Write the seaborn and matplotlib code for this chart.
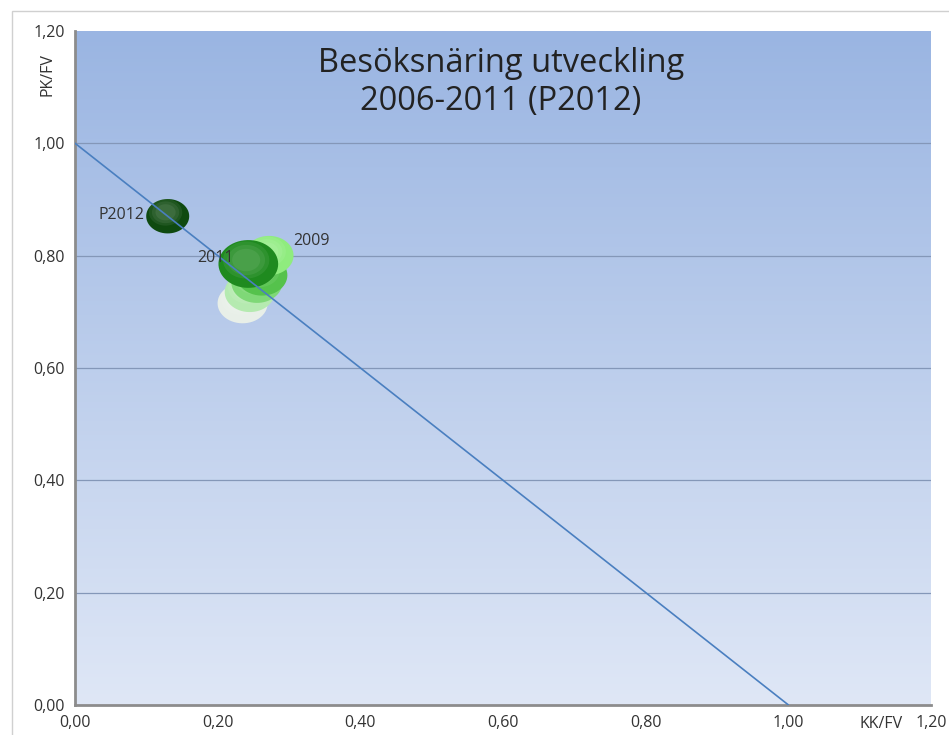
import numpy as np
import pandas as pd
import seaborn as sns
import matplotlib.pyplot as plt
from matplotlib.path import Path
from matplotlib.colors import LinearSegmentedColormap
from matplotlib.patches import Rectangle

# data: KK/FV (x), PK/FV (y) per year
years = ["2006", "2007", "2008", "2010", "2009", "2011", "P2012"]
kk_fv = [0.235, 0.245, 0.255, 0.262, 0.272, 0.243, 0.130]
pk_fv = [0.715, 0.735, 0.752, 0.765, 0.800, 0.785, 0.870]
bubble_colors = ["#e8efe8", "#b5eab0", "#7fd877", "#55c24c", "#8fec7e", "#1f8a1f", "#0f4a10"]
bubble_sizes = [1300, 1300, 1350, 1350, 1250, 1850, 960]
labelled = {"2009": (0.306, 0.826, "left"), "2011": (0.222, 0.795, "right"),
            "P2012": (0.097, 0.872, "right")}
yticks = [0.0, 0.2, 0.4, 0.6, 0.8, 1.0, 1.2]
xticks = [0.0, 0.2, 0.4, 0.6, 0.8, 1.0, 1.2]

df = pd.DataFrame({"year": years, "kk": kk_fv, "pk": pk_fv, "size": bubble_sizes})

sns.set_style("white")
plt.rcParams["font.family"] = ["Open Sans", "DejaVu Sans"]

fig = plt.figure(figsize=(9.49, 7.35), dpi=100)
ax = fig.add_axes([0.079, 0.041, 0.902, 0.917])

# gradient background
grad = LinearSegmentedColormap.from_list("bg", ["#dfe7f6", "#9ab5e2"])
ax.imshow(np.linspace(0, 1, 256).reshape(-1, 1), cmap=grad, origin="lower",
          extent=[0, 1.2, 0, 1.2], aspect="auto", zorder=0)

for yv in yticks[1:-1]:
    ax.axhline(yv, color="#8497b8", lw=0.9, zorder=1)

# slightly flattened bubble marker
t = np.linspace(0, 2 * np.pi, 60)
ellipse = Path(np.column_stack([np.cos(t), 0.8 * np.sin(t)]))

for i, row in df.iterrows():
    sub = df.iloc[[i]]
    sns.scatterplot(data=sub, x="kk", y="pk", color=bubble_colors[i], s=row["size"],
                    marker=ellipse, edgecolor="none", legend=False, ax=ax, zorder=3 + i * 0.1)
    # soft highlight to give the 3D look
    for k, frac in enumerate([0.6, 0.4, 0.22]):
        sns.scatterplot(x=sub["kk"] - 0.003, y=sub["pk"] + 0.007, color="white", alpha=0.07,
                        s=row["size"] * frac, marker=ellipse, edgecolor="none", legend=False,
                        ax=ax, zorder=3.01 + i * 0.1 + k * 0.01)

# diagonal reference line, drawn across the bubbles
ax.plot([0, 1], [1, 0], color="#4a7fc0", lw=1.2, zorder=4)

for name, (lx, ly, ha) in labelled.items():
    ax.text(lx, ly, name, ha=ha, va="center", fontsize=11.5, color="#333333", zorder=5)

ax.text(0.597, 1.172, "Besöksnäring utveckling\n2006-2011 (P2012)", ha="center", va="top",
        fontsize=23.5, color="#222222", linespacing=1.2, zorder=5)

ax.set_xlim(0, 1.2)
ax.set_ylim(0, 1.2)
ax.set_xticks(xticks)
ax.set_yticks(yticks)
ax.set_xticklabels([f"{v:.2f}".replace(".", ",") for v in xticks], fontsize=11.5, color="#333333")
ax.set_yticklabels([f"{v:.2f}".replace(".", ",") for v in yticks], fontsize=11.5, color="#333333")
ax.tick_params(axis="both", length=3, color="#888888", direction="out", pad=4)
ax.set_xlabel("")
ax.set_ylabel("")
ax.text(1.13, -0.02, "KK/FV", ha="center", va="top", fontsize=11.5, color="#333333")
fig.text(0.05, 0.898, "PK/FV", rotation=90, ha="center", va="center", fontsize=11.5, color="#333333")

for side in ["top", "right"]:
    ax.spines[side].set_visible(False)
for side in ["left", "bottom"]:
    ax.spines[side].set_color("#8c8c8c")
    ax.spines[side].set_linewidth(2)

fig.patches.append(Rectangle((0.013, -0.01), 1.0, 0.995, transform=fig.transFigure,
                             fill=False, edgecolor="#d0d0d0", lw=1))

fig.savefig("out.png", dpi=100)
